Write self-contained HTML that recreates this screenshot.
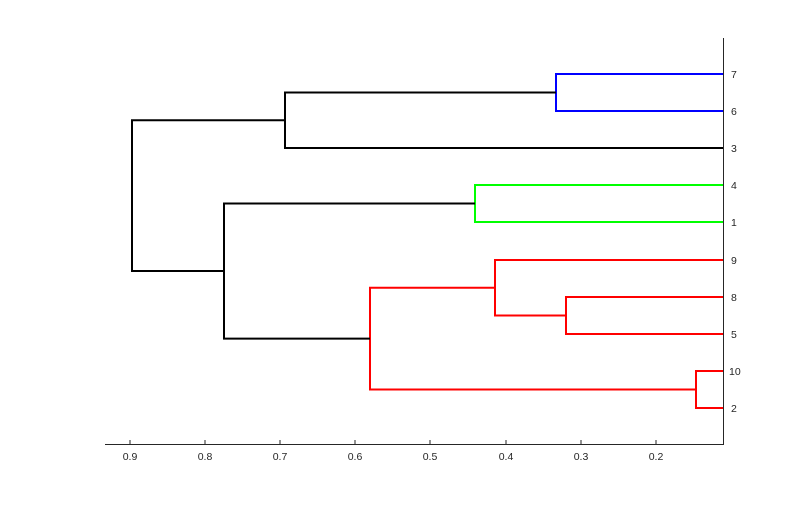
<!DOCTYPE html>
<html><head><style>body{margin:0;background:#fff}</style></head><body>
<svg width="800" height="500" xmlns="http://www.w3.org/2000/svg" font-family="Liberation Sans, sans-serif" font-size="10.5" fill="#262626">
<rect width="800" height="500" fill="#fff"/>
<g stroke-width="2" fill="none">
<path d="M723 74H556V111H723" stroke="#0000ff"/>
<path d="M723 185H475V222H723" stroke="#00ff00"/>
<path d="M723 297H566V334H723" stroke="#ff0000"/>
<path d="M723 260H495V315.5H566" stroke="#ff0000"/>
<path d="M723 371H696V408H723" stroke="#ff0000"/>
<path d="M495 287.8H370V389.5H696" stroke="#ff0000"/>
<path d="M556 92.5H285V148H723" stroke="#000"/>
<path d="M475 203.5H224V338.6H370" stroke="#000"/>
<path d="M285 120.3H132V271H224" stroke="#000"/>
</g>
<g stroke="#262626" stroke-width="1" fill="none">
<path d="M105 444.5H723.5V38"/>
<path d="M130 444V440M205 444V440M280 444V440M355 444V440M430 444V440M506 444V440M581 444V440M656 444V440"/>
</g>
<g text-anchor="middle">
<text x="130" y="460">0.9</text><text x="205" y="460">0.8</text><text x="280" y="460">0.7</text><text x="355" y="460">0.6</text><text x="430" y="460">0.5</text><text x="506" y="460">0.4</text><text x="581" y="460">0.3</text><text x="656" y="460">0.2</text>
</g>
<g>
<text x="731" y="78">7</text><text x="731" y="115">6</text><text x="731" y="152">3</text><text x="731" y="189">4</text><text x="731" y="226">1</text><text x="731" y="264">9</text><text x="731" y="301">8</text><text x="731" y="338">5</text><text x="729" y="375">10</text><text x="731" y="412">2</text>
</g>
</svg>
</body></html>
